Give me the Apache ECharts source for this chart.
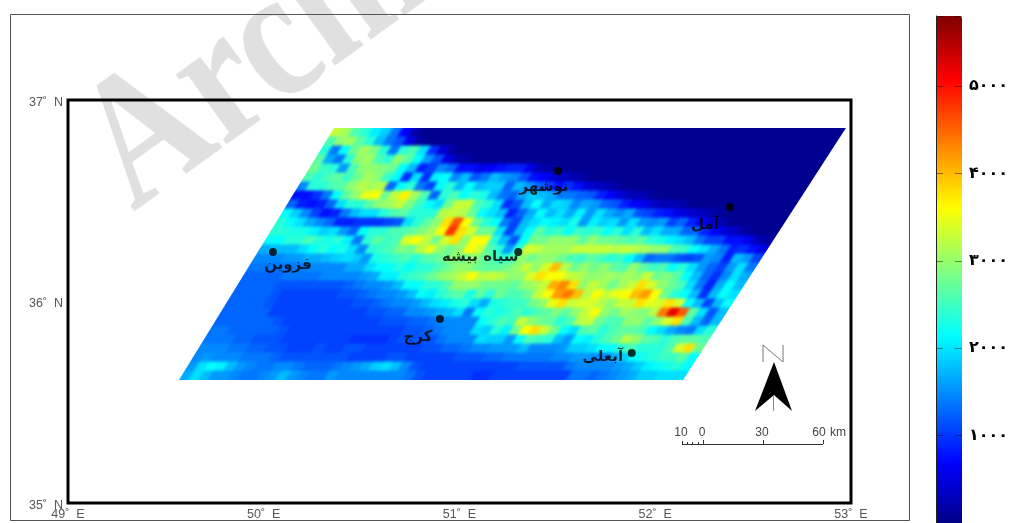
<!DOCTYPE html>
<html><head><meta charset="utf-8">
<style>html,body{margin:0;padding:0;background:#fff;overflow:hidden}#c{width:1011px;height:523px}</style>
<script src="https://cdn.jsdelivr.net/npm/echarts@6/dist/echarts.min.js"></script>
</head><body><div id="c"></div>
<script>
// Elevation in hundreds of metres, read row by row (north to south, west to east) in the sheared raster.
const SEA = 1;
const elevationRows = [
[33,31,26,24,21,19,14,7,3],
[26,30,31,27,24,18,14,12,6,2],
[24,14,22,28,31,29,24,14,24,26,20,10,5,2],
[27,17,14,24,30,31,26,24,30,27,22,16,12,6,3,2],
[28,25,24,16,26,30,30,29,28,22,18,9,11,15,13,8,8,6,7,8,9,9,6,3,2],
[26,24,26,27,25,28,31,30,25,22,10,20,10,21,22,15,18,12,14,18,16,15,12,8,7,5,4,3,2],
[15,24,24,26,27,30,32,31,32,13,22,24,14,11,22,24,18,22,18,19,19,13,18,16,13,11,8,10,8,5,4,3,2],
[8,8,10,14,22,27,30,35,36,28,33,37,31,26,13,24,26,22,24,23,18,14,13,17,19,18,17,14,14,13,12,9,7,5,3,3,2],
[13,9,8,9,13,20,24,24,27,30,31,33,29,25,22,20,28,33,33,26,24,20,10,12,18,22,17,20,19,15,17,16,13,12,9,7,6,4,3,3,2],
[22,19,15,11,8,9,14,18,20,20,24,26,27,24,24,24,32,33,32,28,22,20,18,9,13,17,22,18,20,17,21,16,20,17,15,17,12,11,9,8,6,5,4,3,2],
[24,22,20,17,15,13,9,9,10,10,10,11,12,20,24,27,30,38,46,36,28,24,22,14,11,18,20,22,21,20,23,16,21,19,20,16,20,16,15,16,11,13,9,7,4,3],
[24,24,23,23,21,19,20,16,13,22,24,24,26,26,27,29,31,36,48,38,34,28,28,20,11,18,22,27,24,25,22,25,24,25,22,24,20,24,18,20,17,17,13,13,9,7,5,4,2],
[22,22,24,24,26,24,23,24,21,14,24,27,25,26,34,36,33,28,34,38,30,36,36,24,18,12,22,28,28,30,30,30,27,30,28,28,27,26,27,24,23,21,20,18,14,11,11,8,8,6,3,2],
[17,18,18,18,20,22,24,22,23,20,15,24,25,26,29,28,32,35,30,28,30,36,34,27,24,16,24,34,33,31,31,31,33,33,33,33,32,33,32,31,30,30,26,25,22,20,17,14,9,10,8,6],
[15,15,15,16,16,17,17,18,19,20,19,16,23,24,25,26,24,26,27,28,30,28,30,28,26,24,26,30,28,30,30,28,26,25,27,26,24,25,22,18,13,14,14,12,11,12,16,15,9,18,16,11],
[14,14,14,14,14,14,15,15,15,15,17,17,20,22,22,24,22,24,24,26,28,30,30,28,27,27,28,30,33,30,34,40,32,28,30,28,30,27,26,30,27,25,26,22,24,20,16,13,11,16,20,14],
[13,13,13,13,14,14,14,14,15,15,15,15,16,17,21,21,24,25,26,28,30,31,33,36,32,33,32,30,30,34,38,36,36,33,32,30,30,31,30,31,30,33,28,29,27,22,18,13,10,15,20,17],
[13,13,13,13,12,12,12,12,12,12,12,13,14,15,15,16,18,22,22,24,24,26,30,30,30,28,28,28,27,30,31,33,41,43,38,30,33,31,28,31,33,38,34,30,28,26,20,14,9,17,22,18],
[13,13,13,13,12,11,11,11,11,11,11,12,12,13,14,15,15,16,18,22,21,24,26,27,23,27,24,28,26,26,28,33,36,42,44,40,32,36,33,35,36,40,42,36,28,24,22,18,10,18,22,20],
[13,13,13,13,12,11,11,11,11,11,11,11,11,12,12,13,14,15,15,16,18,20,21,23,24,20,17,23,24,25,25,28,30,35,38,33,34,34,32,30,33,33,38,35,34,38,34,22,18,11,18,22],
[13,13,13,13,13,11,11,11,11,11,11,11,11,11,11,12,12,13,13,15,15,16,17,18,20,14,22,24,23,24,26,24,26,27,29,27,30,33,36,30,28,31,30,29,32,44,52,46,27,20,12,18],
[13,13,13,13,13,13,12,11,11,11,11,11,11,11,11,11,11,12,12,12,13,13,14,15,15,15,15,22,24,26,25,33,30,28,27,24,26,32,33,28,26,26,30,30,27,30,34,38,26,18,13,18],
[14,14,13,13,13,13,13,12,11,11,11,11,11,11,11,11,11,11,11,11,12,12,13,14,15,15,15,20,19,24,21,28,36,38,33,28,22,20,26,27,24,26,27,27,26,22,20,17,15,14,20,24],
[14,14,14,13,13,12,12,12,11,11,11,11,11,11,11,10,10,10,10,11,12,12,12,12,14,15,15,15,20,19,19,16,22,26,25,24,18,16,22,21,24,26,28,32,30,27,26,24,26,27,27,26],
[15,15,15,14,14,13,13,12,12,11,11,11,12,11,11,12,12,11,11,11,11,11,11,12,12,13,13,14,15,15,16,16,16,18,15,15,15,16,19,19,20,22,22,24,26,24,24,24,26,34,38,28],
[15,16,15,15,15,14,14,14,13,12,12,12,12,12,12,12,11,11,11,11,12,12,11,11,11,11,11,12,12,12,13,13,14,14,14,14,14,15,15,16,16,15,15,17,19,22,23,24,25,25,27,22],
[16,20,22,21,18,16,15,14,14,15,15,14,13,13,13,14,15,16,17,19,20,18,15,12,11,11,11,11,11,11,11,11,11,11,12,12,12,12,12,14,15,15,15,15,16,17,19,21,22,23,24,22],
[17,20,18,16,16,15,14,14,15,16,18,16,15,14,14,16,15,15,15,15,15,15,15,14,12,11,11,11,11,11,10,10,11,11,11,11,11,11,11,11,14,14,13,14,15,16,17,19,19,20,20,20]
];
const rasterCols = 52;
// Raster corners in degrees, [lon, lat]
const cornerNW = [50.359, 36.861], cornerNE = [52.974, 36.861], cornerSW = [49.567, 35.610], cornerSE = [52.142, 35.610];
const jetColors = ['#000080','#0000ff','#00ffff','#ffff00','#ff0000','#800000'];
const jetStops = [0,0.125,0.375,0.625,0.875,1];
const elevMax = 58;
const barTicks = {10:'۱۰۰۰',20:'۲۰۰۰',30:'۳۰۰۰',40:'۴۰۰۰',50:'۵۰۰۰'};
const cityNames = ['نوشهر','آمل','سیاه بیشه','قزوین','کرج','آبعلی'];
const cityLon = [51.503,52.382,51.30,50.047,50.90,51.88];
const cityLat = [36.648,36.469,36.246,36.246,35.913,35.744];
const labelOffsets = [[-14,16],[-25,18],[-38,5],[15,13],[-22,18],[-29,4]];

const R = elevationRows.length;
function geo(u,v){
  const a=[cornerNW[0]+u*(cornerNE[0]-cornerNW[0]),cornerNW[1]];
  const b=[cornerSW[0]+u*(cornerSE[0]-cornerSW[0]),cornerSW[1]];
  return [a[0]*(1-v)+b[0]*v,a[1]*(1-v)+b[1]*v];
}
const cells=[];
elevationRows.forEach((row,r)=>{
  for(let c=0;c<rasterCols;c++){
    const val=c<row.length?row[c]:SEA;
    const g=geo((c+.5)/rasterCols,(r+.5)/R);
    cells.push([g[0],g[1],val,r,c]);
  }
});
function jetPalette(){
  const out=[];
  for(let i=0;i<jetColors.length-1;i++){
    const n=Math.round((jetStops[i+1]-jetStops[i])*40);
    for(let k=0;k<n;k++) out.push(echarts.color.lerp(k/n,[jetColors[i],jetColors[i+1]]));
  }
  out.push(jetColors[jetColors.length-1]);
  return out;
}
const chart=echarts.init(document.getElementById('c'),null,{renderer:'canvas'});
const serif='"Liberation Serif",serif', sans='"Liberation Sans",Arial,sans-serif';
const line=(x1,y1,x2,y2,stroke,lw)=>({type:'line',shape:{x1,y1,x2,y2},style:{stroke:stroke||'#333',lineWidth:lw||1},z:50,silent:true});
const txt=(x,y,t,align)=>({type:'text',x,y,z:50,silent:true,style:{text:t,font:'12px '+sans,fill:'#444',textAlign:align||'center',textVerticalAlign:'middle'}});
const padU=0.02,padV=0.04;
chart.setOption({
  animation:false,backgroundColor:'#fff',
  grid:[{left:68,top:100,width:783,height:403,show:true,borderColor:'#000',borderWidth:3,backgroundColor:'transparent',z:3},
        {left:936,top:16,width:26,height:511,show:false}],
  xAxis:[{type:'value',min:49,max:53,interval:1,axisLine:{show:false},axisTick:{show:false},splitLine:{show:false},
    axisLabel:{margin:5,color:'#555',fontFamily:sans,fontSize:12.5,hideOverlap:false,showMinLabel:true,showMaxLabel:true,formatter:v=>v+'˚  E'}},
   {type:'value',gridIndex:1,min:0,max:1,show:false}],
  yAxis:[{type:'value',min:35,max:37,interval:1,axisLine:{show:false},axisTick:{show:false},splitLine:{show:false},
    axisLabel:{margin:5,formatter:v=>'{a|'+v+'˚  N}',hideOverlap:false,showMinLabel:true,showMaxLabel:true,
      rich:{a:{color:'#555',fontFamily:sans,fontSize:12.5,padding:[5,0,0,0]}}}},
   {type:'value',gridIndex:1,min:0,max:elevMax,interval:10,position:'right',z:10,
    axisLine:{show:true,lineStyle:{color:'#222',width:1}},axisTick:{show:false},
    splitLine:{show:true,lineStyle:{color:'rgba(0,0,0,.45)',width:1,type:[7,12]}},
    axisLabel:{margin:7,color:'#000',fontFamily:'"DejaVu Sans"',fontWeight:'bold',fontSize:16,hideOverlap:false,formatter:v=>barTicks[v]||''}}],
  visualMap:{type:'continuous',show:true,seriesIndex:0,dimension:2,min:0,max:elevMax,left:936,top:16,itemWidth:26,itemHeight:511,padding:0,
    text:null,calculable:false,showLabel:false,z:1,inRange:{color:jetPalette()}},
  series:[{
    type:'custom',xAxisIndex:0,yAxisIndex:0,zlevel:1,clip:false,silent:true,
    encode:{x:0,y:1},data:cells,
    renderItem(params,api){
      const r=api.value(3),c=api.value(4),col=api.visual('color');
      const u0=c===0?-padU:c/rasterCols,u1=c===rasterCols-1?1+padU:(c+1)/rasterCols;
      const v0=r===0?-padV:r/R,v1=r===R-1?1+padV:(r+1)/R;
      const pts=[geo(u0,v0),geo(u1,v0),geo(u1,v1),geo(u0,v1)].map(p=>api.coord(p));
      return {type:'polygon',shape:{points:pts},style:{fill:col,stroke:col,lineWidth:1}};
    }
  },{
    type:'scatter',xAxisIndex:0,yAxisIndex:0,zlevel:2,symbolSize:8,silent:true,itemStyle:{color:'#000'},
    data:cityNames.map((n,i)=>({value:[cityLon[i],cityLat[i]],name:n,
      label:{show:true,position:'inside',offset:labelOffsets[i],formatter:n,color:'#000',fontFamily:'"DejaVu Sans"',fontWeight:'bold',fontSize:15}}))
  }],
  graphic:{elements:[
    {type:'text',x:160,y:249,rotation:36*Math.PI/180,scaleX:0.82,z:-1,silent:true,style:{text:'Archive of SID',font:'bold 188px '+serif,fill:'#e0e0e0',textAlign:'left',textVerticalAlign:'bottom'}},
    {type:'rect',shape:{x:10.5,y:14.5,width:899,height:506},z:0,silent:true,style:{fill:'none',stroke:'#555',lineWidth:1}},
    {type:'polyline',shape:{points:[[763,362],[763,345],[783,362],[783,345]]},z:50,silent:true,style:{fill:'none',stroke:'#777',lineWidth:1}},
    {type:'polygon',shape:{points:[[774,362],[755,411],[774,395],[792,411]]},z:50,silent:true,style:{fill:'#000'}},
    line(773.5,395,773.5,411,'#888',1),
    line(682,444.5,823,444.5,'#333',1),
    line(682.5,441,682.5,444,'#333',1),line(687.5,442,687.5,444,'#333',1),line(692.5,442,692.5,444,'#333',1),line(698.5,442,698.5,444,'#333',1),
    line(703.5,440,703.5,444,'#333',1),line(763.5,440,763.5,444,'#333',1),line(823.5,440,823.5,444,'#333',1),
    txt(681,433,'10'),txt(702,433,'0'),txt(762,433,'30'),txt(819,433,'60'),txt(830,433,'km','left')
  ]}
});
function softenRaster(){
  const cv=document.querySelector('#c canvas[data-zr-dom-id="zr_1"]');
  if(!cv) return;
  const pts=[cornerNW,cornerNE,cornerSE,cornerSW].map(p=>chart.convertToPixel({gridIndex:0},p));
  cv.style.filter='blur(1.6px)';
  cv.style.clipPath='polygon('+pts.map(p=>p[0]+'px '+p[1]+'px').join(',')+')';
}
chart.on('finished',softenRaster);
softenRaster();
</script></body></html>
